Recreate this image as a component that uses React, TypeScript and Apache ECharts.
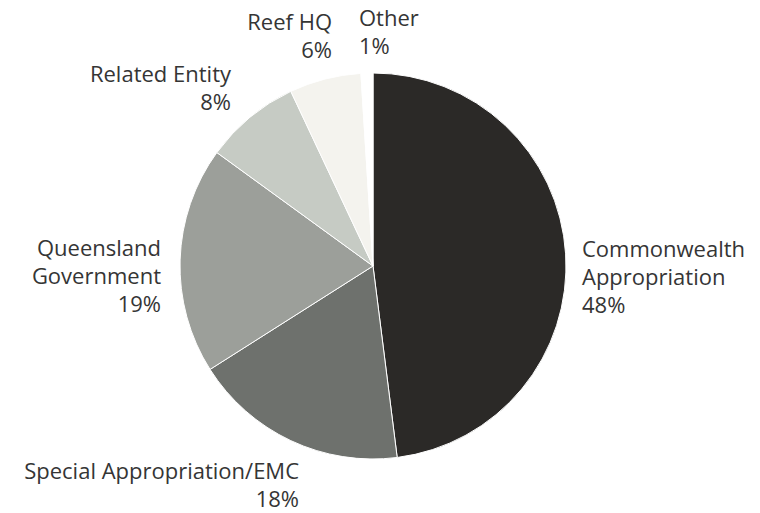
import React, { useEffect, useRef } from "react";
import * as echarts from "echarts";

const categories = [
  "Commonwealth\nAppropriation",
  "Special Appropriation/EMC",
  "Queensland\nGovernment",
  "Related Entity",
  "Reef HQ",
  "Other",
];
const values = [48, 18, 19, 8, 6, 1];
const colors = ["#2b2927", "#6e716d", "#9c9f9a", "#c6cbc4", "#f4f3ee", "#ffffff"];

// label anchor positions (layout only)
const labelPos: { x: number; y: number; align: "left" | "right" }[] = [
  { x: 582, y: 276, align: "left" },
  { x: 299, y: 484, align: "right" },
  { x: 161, y: 275, align: "right" },
  { x: 231, y: 87, align: "right" },
  { x: 332, y: 35, align: "right" },
  { x: 359, y: 31, align: "left" },
];

export default function App() {
  const ref = useRef<HTMLDivElement>(null);
  useEffect(() => {
    if (!ref.current) return;
    const chart = echarts.init(ref.current, undefined, { renderer: "svg" });
    chart.setOption({
      animation: false,
      backgroundColor: "#ffffff",
      series: [
        {
          type: "pie",
          center: [373, 266],
          radius: 193,
          startAngle: 90,
          clockwise: true,
          avoidLabelOverlap: false,
          itemStyle: { borderColor: "#ffffff", borderWidth: 1 },
          labelLine: { show: false },
          label: {
            show: true,
            formatter: (p: any) => `${p.name}\n${p.value}%`,
            fontFamily: "Open Sans",
            fontSize: 22,
            lineHeight: 28,
            color: "#353535",
          },
          labelLayout: (params: any) => {
            const p = labelPos[params.dataIndex];
            return { x: p.x, y: p.y, align: p.align, verticalAlign: "middle" };
          },
          data: categories.map((c, i) => ({
            name: c,
            value: values[i],
            itemStyle: { color: colors[i] },
          })),
        },
      ],
    });
    return () => chart.dispose();
  }, []);
  return (
    <div
      ref={ref}
      style={{ position: "fixed", left: 0, top: 0, width: 760, height: 513 }}
    />
  );
}
